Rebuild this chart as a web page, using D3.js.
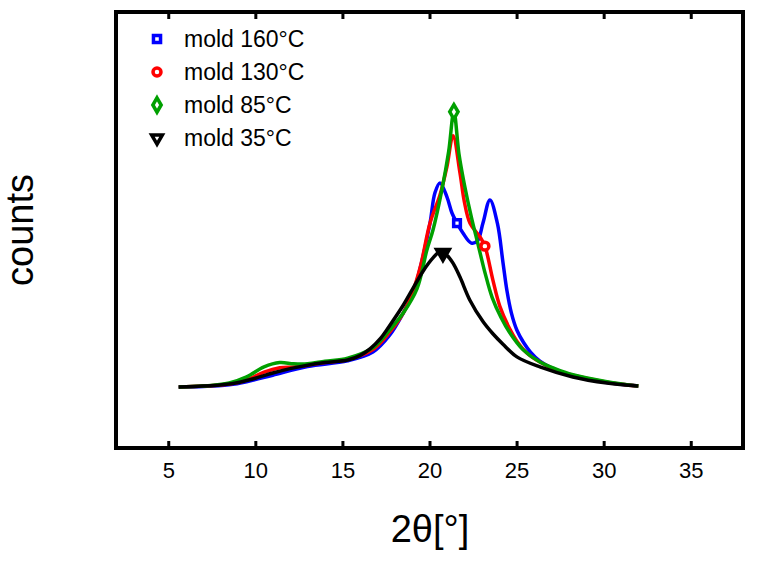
<!DOCTYPE html>
<html>
<head>
<meta charset="utf-8">
<script src="https://cdn.jsdelivr.net/npm/d3@7"></script>
<style>
  body { margin: 0; background: #fff; }
  svg { font-family: 'Liberation Sans', Arial, Helvetica, sans-serif; }
</style>
</head>
<body>
<div id="chart"></div>
<script>
// 2theta [deg] and counts (arbitrary units)
const theta160 = [5.6, 7.0, 8.5, 9.5, 11.0, 13.0, 15.3, 16.75, 17.7, 18.5, 19.05, 19.45, 20.03, 20.31, 20.6, 21.0, 21.29, 21.58, 21.92, 22.4, 22.75, 23.07, 23.47, 23.9, 24.22, 24.45, 24.7, 25.02, 25.4, 25.8, 26.34, 27.0, 28.2, 30.2, 32.0];
const counts160 = [14.0, 14.1, 14.5, 15.2, 16.7, 18.7, 20.0, 22.0, 25.8, 31.0, 35.5, 41.0, 51.6, 58.5, 60.8, 57.6, 53.9, 51.6, 49.3, 47.0, 47.5, 51.6, 56.9, 51.5, 42.5, 36.0, 31.0, 27.0, 24.2, 22.0, 19.9, 18.4, 16.6, 15.0, 14.2];

const theta130 = [5.6, 7.0, 8.5, 9.5, 10.5, 11.4, 12.2, 13.0, 14.0, 15.3, 16.75, 17.7, 18.5, 19.05, 19.5, 20.03, 20.6, 21.0, 21.35, 21.75, 22.0, 22.32, 22.9, 23.18, 23.64, 24.04, 24.62, 25.02, 25.59, 26.34, 27.2, 28.23, 30.19, 32.0];
const counts130 = [14.0, 14.2, 14.7, 15.6, 17.4, 18.4, 18.6, 19.0, 19.6, 20.3, 22.6, 26.5, 31.0, 36.0, 42.0, 51.6, 58.0, 64.5, 71.6, 63.1, 56.5, 51.6, 48.4, 46.3, 38.5, 32.5, 27.2, 24.5, 21.8, 19.7, 18.0, 16.7, 15.1, 14.2];

const theta85 = [5.6, 7.0, 8.5, 9.5, 10.5, 11.4, 12.2, 13.0, 14.0, 15.3, 16.75, 17.7, 18.5, 19.28, 19.85, 20.2, 20.71, 21.1, 21.4, 21.69, 22.0, 22.4, 22.8, 23.2, 23.6, 24.1, 24.6, 25.36, 26.34, 27.2, 28.23, 30.19, 32.0];
const counts85 = [14.0, 14.2, 14.9, 16.3, 18.6, 19.6, 19.3, 19.3, 19.9, 20.6, 23.0, 27.0, 31.0, 36.5, 45.4, 50.0, 59.2, 68.0, 77.1, 67.5, 60.5, 53.0, 46.5, 40.0, 34.5, 30.0, 26.5, 22.6, 19.7, 18.2, 16.8, 15.2, 14.2];

const theta35 = [5.6, 7.0, 8.5, 9.1, 10.0, 11.0, 12.0, 13.0, 14.0, 15.3, 16.0, 16.6, 17.2, 17.7, 18.5, 19.05, 19.62, 20.2, 20.6, 21.0, 21.35, 21.75, 22.32, 23.07, 23.64, 24.22, 25.02, 26.34, 28.23, 30.19, 31.97];
const counts35 = [14.0, 14.2, 14.7, 15.1, 16.0, 17.2, 18.2, 19.0, 19.6, 20.2, 21.2, 22.8, 25.2, 28.0, 32.8, 36.6, 40.5, 43.6, 45.0, 44.2, 42.4, 39.2, 33.9, 29.0, 26.2, 23.8, 20.9, 18.6, 16.3, 14.9, 14.2];

// one marker per curve
const markerTheta = [21.58, 23.18, 21.4, 20.77];
const markerCounts = [51.6, 46.3, 77.1, 44.7];

const labels = ['mold 160°C', 'mold 130°C', 'mold 85°C', 'mold 35°C'];
const colors = ['#0000ff', '#ff0000', '#00a000', '#000000'];
const symbols = [d3.symbolSquare, d3.symbolCircle, d3.symbolDiamond, d3.symbolTriangle];

const xTicks = [5, 10, 15, 20, 25, 30, 35];

const series = [
  [theta160, counts160],
  [theta130, counts130],
  [theta85, counts85],
  [theta35, counts35],
];

const W = 757;
const H = 562;
const margin = { top: 12, right: 14, bottom: 114, left: 116 };
const width = W - margin.left - margin.right;
const height = H - margin.top - margin.bottom;

const svg = d3.select('#chart')
  .append('svg')
  .attr('width', W)
  .attr('height', H);

const g = svg.append('g')
  .attr('transform', `translate(${margin.left},${margin.top})`);

const x = d3.scaleLinear().domain([2, 38]).range([0, width]);
const y = d3.scaleLinear().domain([0, 100]).range([height, 0]);

// x ticks, inward at bottom and top
const bottomAxis = g.append('g')
  .attr('transform', `translate(0,${height})`)
  .call(d3.axisBottom(x).tickValues(xTicks).tickSize(-7).tickPadding(14).tickFormat(d3.format('d')));
bottomAxis.select('.domain').remove();
bottomAxis.selectAll('line').attr('stroke', '#000').attr('stroke-width', 3);
bottomAxis.selectAll('text')
  .attr('font-size', 22)
  .attr('fill', '#000')
  .attr('dy', '0.71em');

const topAxis = g.append('g')
  .call(d3.axisTop(x).tickValues(xTicks).tickSize(-7).tickFormat(''));
topAxis.select('.domain').remove();
topAxis.selectAll('line').attr('stroke', '#000').attr('stroke-width', 3);

// curves
const line = d3.line()
  .x((d) => x(d[0]))
  .y((d) => y(d[1]))
  .curve(d3.curveCatmullRom.alpha(0.5));

series.forEach((s, i) => {
  const pts = s[0].map((t, j) => [t, s[1][j]]);
  g.append('path')
    .datum(pts)
    .attr('fill', 'none')
    .attr('stroke', colors[i])
    .attr('stroke-width', 3.5)
    .attr('stroke-linejoin', 'round')
    .attr('d', line);
});

// markers
const sym = (i) => d3.symbol().type(symbols[i]).size([45, 50, 60, 70][i])();
markerTheta.forEach((t, i) => {
  g.append('path')
    .attr('d', sym(i))
    .attr('transform', `translate(${x(t)},${y(markerCounts[i])})${i === 3 ? ' rotate(180)' : ''}`)
    .attr('fill', i === 3 ? '#000' : '#fff')
    .attr('stroke', colors[i])
    .attr('stroke-width', 3.5);
});

// frame
g.append('rect')
  .attr('width', width)
  .attr('height', height)
  .attr('fill', 'none')
  .attr('stroke', '#000')
  .attr('stroke-width', 4);

// legend
const legend = svg.append('g').attr('transform', 'translate(157,39)');
labels.forEach((lab, i) => {
  const row = legend.append('g').attr('transform', `translate(0,${i * 33})`);
  row.append('path')
    .attr('d', d3.symbol().type(symbols[i]).size(i === 2 ? 60 : 50)())
    .attr('transform', i === 3 ? 'rotate(180)' : null)
    .attr('fill', '#fff')
    .attr('stroke', colors[i])
    .attr('stroke-width', 3.5);
  row.append('text')
    .attr('x', 27)
    .attr('y', 0)
    .attr('dy', '0.36em')
    .attr('font-size', 23)
    .attr('fill', '#000')
    .text(lab);
});

// axis titles
svg.append('text')
  .attr('transform', 'translate(33,230) rotate(-90)')
  .attr('text-anchor', 'middle')
  .attr('font-size', 38)
  .text('counts');

svg.append('text')
  .attr('x', 430)
  .attr('y', 542)
  .attr('text-anchor', 'middle')
  .attr('font-size', 38)
  .text('2θ[°]');
</script>
</body>
</html>
